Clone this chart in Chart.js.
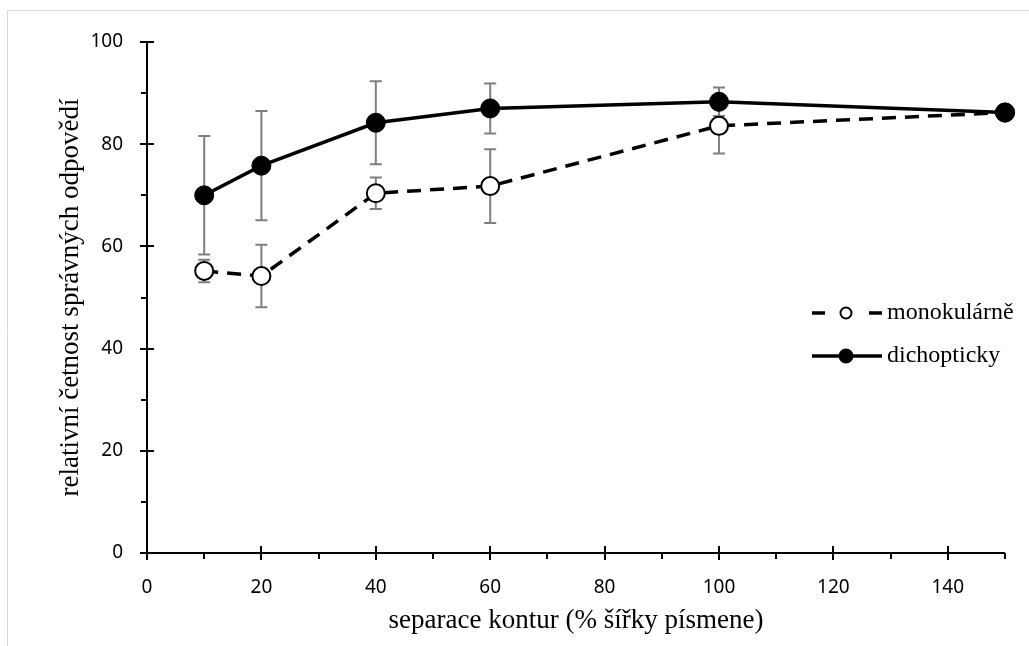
<!DOCTYPE html>
<html>
<head>
<meta charset="utf-8">
<script src="https://cdn.jsdelivr.net/npm/chart.js@4.4.0/dist/chart.umd.min.js"></script>
<style>
  html, body { margin: 0; padding: 0; background: #fff; }
  #wrap { position: relative; width: 1029px; height: 646px; }
</style>
</head>
<body>
<div id="wrap"><canvas id="chart" width="1029" height="646"></canvas></div>
<script>
// separace kontur (% šířky písmene)
const xValues = [10, 20, 40, 60, 100, 150];

// dichopticky
const dichoValues = [70.0, 75.8, 84.2, 87.0, 88.3, 86.2];
const dichoErrors = [11.6, 10.7, 8.1, 4.9, 2.8, 0];

// monokulárně
const monoValues = [55.2, 54.2, 70.4, 71.8, 83.6, 86.2];
const monoErrors = [2.2, 6.1, 3.1, 7.2, 5.4, 0];

const xMajorTicks = [0, 20, 40, 60, 80, 100, 120, 140];
const xMinorTicks = [10, 30, 50, 70, 90, 110, 130, 150];
const yMajorTicks = [0, 20, 40, 60, 80, 100];
const yMinorTicks = [10, 30, 50, 70, 90];

const serif = "'Liberation Serif', 'Times New Roman', serif";
const sans = "'Noto Sans', 'Open Sans', sans-serif";

const toPoints = (ys) => ys.map((y, i) => ({ x: xValues[i], y: y }));

/* grey frame around the picture */
const frame = {
    id: "frame",
    beforeDraw(chart) {
        const ctx = chart.ctx;
        ctx.save();
        ctx.strokeStyle = "#d9d9d9";
        ctx.lineWidth = 1;
        ctx.beginPath();
        ctx.moveTo(7.5, 646);
        ctx.lineTo(7.5, 10.5);
        ctx.lineTo(1029, 10.5);
        ctx.stroke();
        ctx.restore();
    }
};

/* error bars, drawn behind the markers */
const errorBars = {
    id: "errorBars",
    beforeDatasetsDraw(chart) {
        const { ctx, scales: { x, y } } = chart;
        ctx.save();
        ctx.strokeStyle = "#7f7f7f";
        ctx.lineWidth = 2;
        chart.data.datasets.forEach(ds => {
            ds.data.forEach((p, i) => {
                const e = ds.errors[i];
                if (!e) return;
                const px = x.getPixelForValue(p.x);
                const top = y.getPixelForValue(p.y + e);
                const bot = y.getPixelForValue(p.y - e);
                ctx.beginPath();
                ctx.moveTo(px, top); ctx.lineTo(px, bot);
                ctx.moveTo(px - 6, top); ctx.lineTo(px + 6, top);
                ctx.moveTo(px - 6, bot); ctx.lineTo(px + 6, bot);
                ctx.stroke();
            });
        });
        ctx.restore();
    }
};

/* axis lines with crossing major ticks and outside minor ticks */
const axes = {
    id: "axes",
    afterDraw(chart) {
        const { ctx, scales: { x, y } } = chart;
        const x0 = x.getPixelForValue(0);
        const y0 = y.getPixelForValue(0);
        ctx.save();
        ctx.strokeStyle = "#000";
        ctx.lineWidth = 2;
        ctx.beginPath();
        ctx.moveTo(x0, y0);
        ctx.lineTo(x.getPixelForValue(150), y0);
        ctx.moveTo(x0, y0);
        ctx.lineTo(x0, y.getPixelForValue(100));
        xMajorTicks.forEach(v => {
            const px = Math.round(x.getPixelForValue(v));
            ctx.moveTo(px, y0 - 7); ctx.lineTo(px, y0 + 7);
        });
        xMinorTicks.forEach(v => {
            const px = Math.round(x.getPixelForValue(v));
            ctx.moveTo(px, y0); ctx.lineTo(px, y0 + 6);
        });
        yMajorTicks.forEach(v => {
            const py = Math.round(y.getPixelForValue(v));
            ctx.moveTo(x0 - 7, py); ctx.lineTo(x0 + 7, py);
        });
        yMinorTicks.forEach(v => {
            const py = Math.round(y.getPixelForValue(v));
            ctx.moveTo(x0 - 6, py); ctx.lineTo(x0, py);
        });
        ctx.stroke();
        ctx.restore();
    }
};

/* legend inside the plot, right side */
const legendBox = {
    id: "legendBox",
    afterDraw(chart) {
        const ctx = chart.ctx;
        const items = [
            { text: "monokulárně", y: 313, dashed: true, fill: "#fff", r: 5.5 },
            { text: "dichopticky", y: 356, dashed: false, fill: "#000", r: 6.5 }
        ];
        ctx.save();
        items.forEach(it => {
            ctx.strokeStyle = "#000";
            ctx.lineWidth = 3.5;
            ctx.beginPath();
            if (it.dashed) {
                ctx.moveTo(812, it.y); ctx.lineTo(825, it.y);
                ctx.moveTo(869, it.y); ctx.lineTo(882, it.y);
            } else {
                ctx.moveTo(812, it.y); ctx.lineTo(882, it.y);
            }
            ctx.stroke();
            ctx.beginPath();
            ctx.lineWidth = 2;
            ctx.arc(846, it.y, it.r, 0, Math.PI * 2);
            ctx.fillStyle = it.fill;
            ctx.fill();
            ctx.stroke();
            ctx.fillStyle = "#000";
            ctx.font = "24px " + serif;
            ctx.textBaseline = "middle";
            ctx.textAlign = "left";
            ctx.fillText(it.text, 887, it.y);
        });
        ctx.restore();
    }
};

new Chart(document.getElementById("chart"), {
    type: "line",
    data: {
        datasets: [{
            label: "dichopticky",
            data: toPoints(dichoValues),
            errors: dichoErrors,
            borderColor: "#000",
            borderWidth: 3.5,
            pointRadius: 9.5,
            pointBorderWidth: 1,
            pointBackgroundColor: "#000",
            pointBorderColor: "#000",
            tension: 0,
            clip: false,
            order: 0
        }, {
            label: "monokulárně",
            data: toPoints(monoValues),
            errors: monoErrors,
            borderColor: "#000",
            borderWidth: 3.5,
            borderDash: [14, 9],
            pointRadius: 9,
            pointBorderWidth: 2,
            pointBackgroundColor: "#fff",
            pointBorderColor: "#000",
            tension: 0,
            clip: false,
            order: 1
        }]
    },
    options: {
        responsive: false,
        animation: false,
        layout: { padding: { left: 0, right: 24, top: 42, bottom: 0 } },
        plugins: {
            legend: { display: false },
            tooltip: { enabled: false }
        },
        scales: {
            x: {
                type: "linear",
                min: 0,
                max: 150,
                grid: { display: false },
                border: { display: false },
                afterBuildTicks: (s) => { s.ticks = s.ticks.filter(t => t.value % 20 === 0); },
                afterFit: (s) => { s.height = 93; },
                ticks: {
                    stepSize: 20,
                    padding: 15,
                    color: "#000",
                    font: { family: sans, size: 19 }
                },
                title: {
                    display: true,
                    text: "separace kontur (% šířky písmene)",
                    color: "#000",
                    font: { family: serif, size: 27 },
                    padding: { top: 0, bottom: 9 }
                }
            },
            y: {
                min: 0,
                max: 100,
                grid: { display: false },
                border: { display: false },
                afterFit: (s) => { s.width = 147; },
                ticks: {
                    stepSize: 20,
                    padding: 16,
                    color: "#000",
                    font: { family: sans, size: 19 }
                },
                title: {
                    display: true,
                    text: "relativní četnost správných odpovědí",
                    color: "#000",
                    font: { family: serif, size: 27 },
                    padding: { top: 55, bottom: 0 }
                }
            }
        }
    },
    plugins: [frame, errorBars, axes, legendBox]
});
</script>
</body>
</html>
